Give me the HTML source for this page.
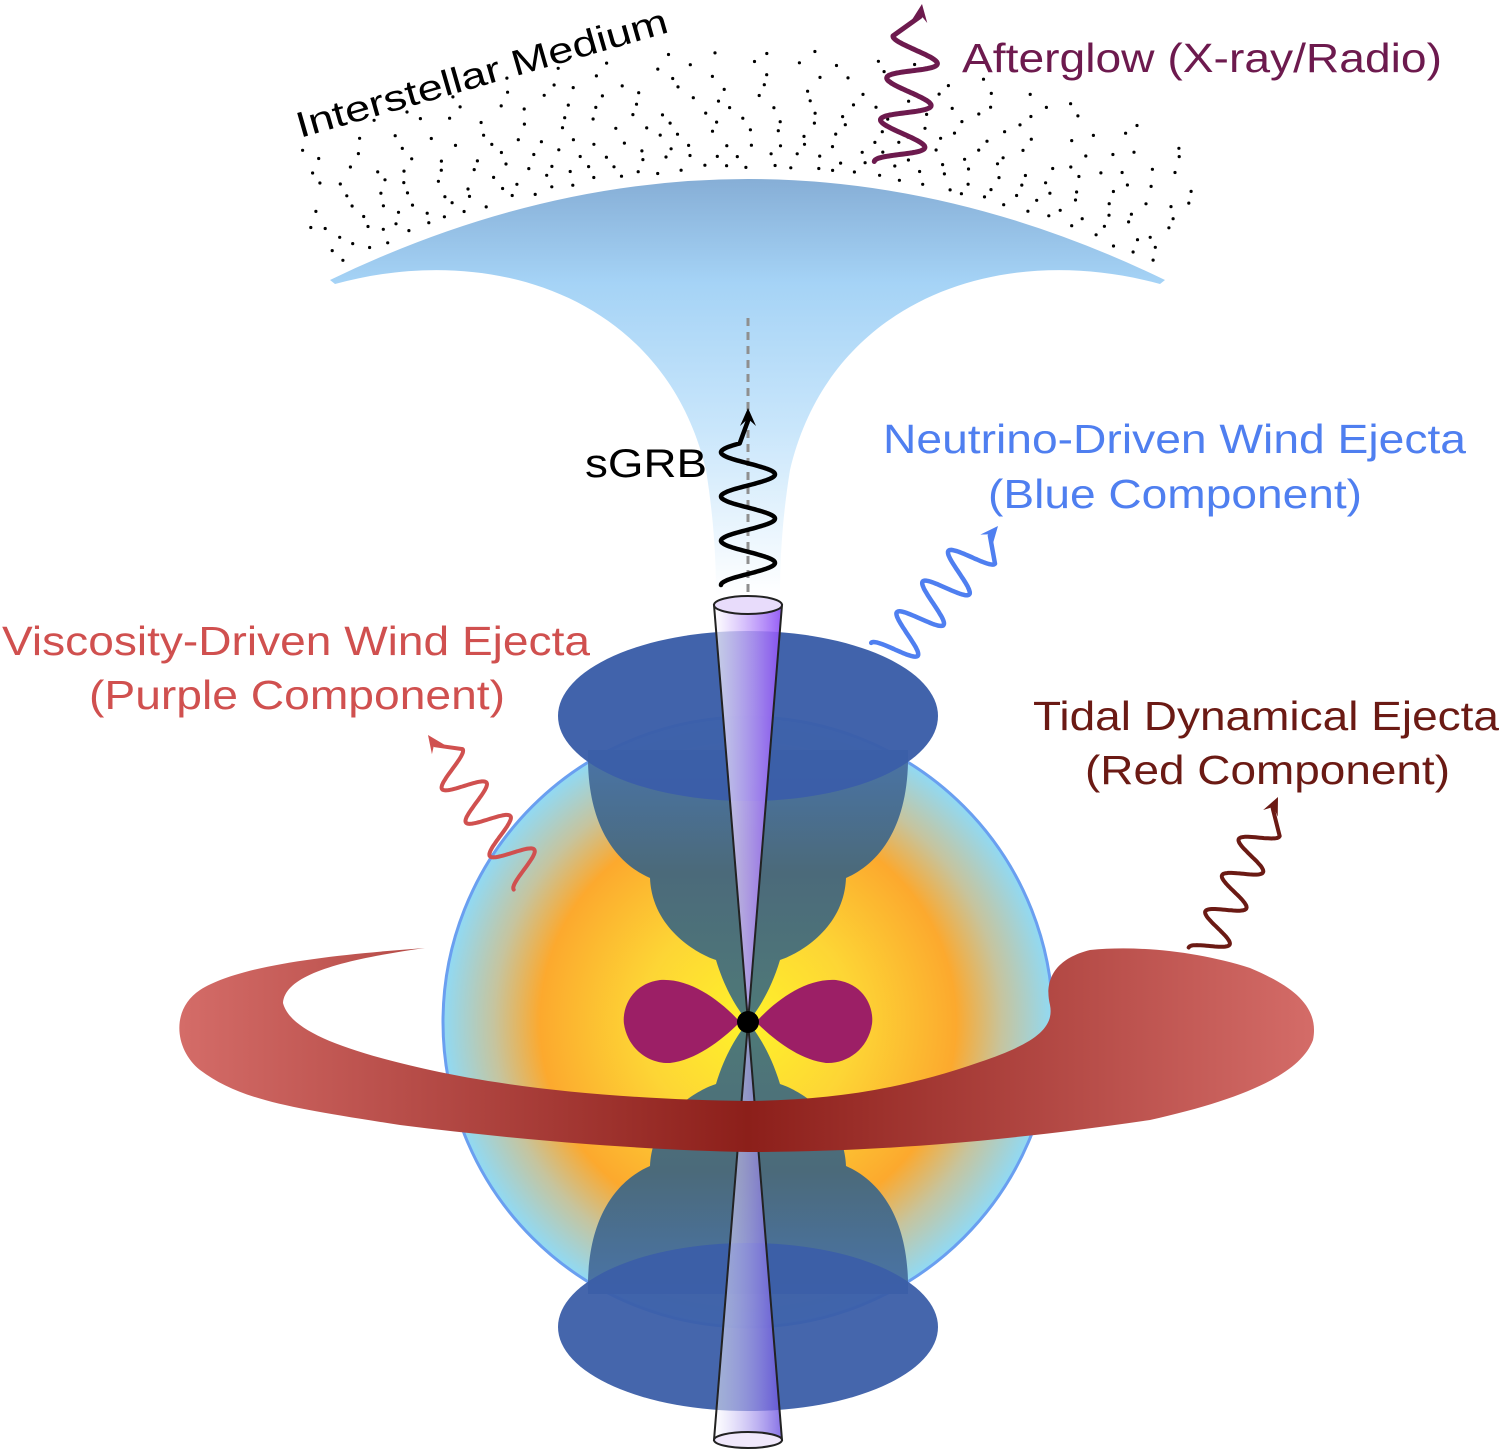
<!DOCTYPE html>
<html><head><meta charset="utf-8"><style>
html,body{margin:0;padding:0;background:#fff;}
svg{display:block;font-family:"Liberation Sans",Arial,sans-serif;}
</style></head><body>
<svg id="s" width="1500" height="1451" viewBox="0 0 1500 1451" xmlns="http://www.w3.org/2000/svg">
<defs>
<linearGradient id="fun" x1="0" y1="0" x2="0" y2="1" gradientUnits="objectBoundingBox">
<stop offset="0" stop-color="#86aed6"/><stop offset="0.25" stop-color="#a5d3f6"/><stop offset="0.6" stop-color="#c9e6fb"/><stop offset="1" stop-color="#ffffff"/>
</linearGradient>
<radialGradient id="sph" cx="748" cy="1022" r="306" gradientUnits="userSpaceOnUse">
<stop offset="0" stop-color="#fff22a"/><stop offset="0.35" stop-color="#fdd535"/><stop offset="0.68" stop-color="#fca92e"/><stop offset="0.83" stop-color="#c6c49e"/><stop offset="1" stop-color="#8fdaf6"/>
</radialGradient>
<linearGradient id="red" x1="180" y1="0" x2="1315" y2="0" gradientUnits="userSpaceOnUse">
<stop offset="0" stop-color="#d46c68"/><stop offset="0.5" stop-color="#8c1f1a"/><stop offset="1" stop-color="#d46c68"/>
</linearGradient>
<linearGradient id="bowl" x1="0" y1="0" x2="0" y2="1">
<stop offset="0" stop-color="#4a74a8"/><stop offset="0.45" stop-color="#4b6a7a"/><stop offset="1" stop-color="#4f7a78"/>
</linearGradient>
<linearGradient id="bowl2" x1="0" y1="1" x2="0" y2="0">
<stop offset="0" stop-color="#4a74a8"/><stop offset="0.45" stop-color="#4b6a7a"/><stop offset="1" stop-color="#4f7a78"/>
</linearGradient>
<linearGradient id="cone" x1="0" y1="0" x2="1" y2="0">
<stop offset="0" stop-color="#ffffff" stop-opacity="0.7"/><stop offset="1" stop-color="#8a4cf5" stop-opacity="0.9"/>
</linearGradient>
<linearGradient id="cone2" x1="0" y1="0" x2="1" y2="0">
<stop offset="0" stop-color="#ffffff" stop-opacity="0.5"/><stop offset="1" stop-color="#6a50e0" stop-opacity="0.8"/>
</linearGradient>
</defs>
<g id="dots" fill="#000"></g>
<path d="M330,280 Q748,78 1165,280 L1160,284 C1000,240 830,300 790,470 C782,520 780,560 780,595 L716,595 C716,560 714,520 706,470 C666,300 496,240 335,284 Z" fill="url(#fun)"/>
<line x1="748" y1="318" x2="748" y2="600" stroke="#8f8f8f" stroke-width="3" stroke-dasharray="8,6"/>
<circle cx="748" cy="1022" r="305" fill="url(#sph)" stroke="#6a9ff0" stroke-width="3"/>
<path d="M588,750 C586,830 620,865 650,878 C652,930 700,955 716,960 C725,990 738,1010 748,1022 C758,1010 771,990 780,960 C796,955 844,930 846,878 C876,865 910,830 908,750 Z" fill="url(#bowl)"/>
<path d="M588,1294 C586,1214 620,1179 650,1166 C652,1114 700,1089 716,1084 C725,1054 738,1034 748,1022 C758,1034 771,1054 780,1084 C796,1089 844,1114 846,1166 C876,1179 910,1214 908,1294 Z" fill="url(#bowl2)"/>
<ellipse cx="748" cy="716" rx="190" ry="85" fill="#3b5ea8" fill-opacity="0.97"/>
<ellipse cx="748" cy="1327" rx="190" ry="84" fill="#3b5ea8" fill-opacity="0.95"/>
<path d="M740,1022 C720,1000 690,978 660,980 C630,984 622,1010 624,1024 C628,1050 650,1064 670,1063 C695,1060 720,1042 740,1022 Z" fill="#9c1f66"/>
<path d="M756,1022 C776,1000 806,978 836,980 C866,984 874,1010 872,1024 C868,1050 846,1064 826,1063 C801,1060 776,1042 756,1022 Z" fill="#9c1f66"/>
<path d="M714,605 L748,1022 L782,605 Z" fill="url(#cone)" stroke="#222" stroke-width="2"/>
<ellipse cx="748" cy="605" rx="34" ry="9" fill="#e8dcfb" stroke="#222" stroke-width="2"/>
<path d="M714,1440 L748,1022 L782,1440 Z" fill="url(#cone2)" stroke="#222" stroke-width="2"/>
<ellipse cx="748" cy="1440" rx="34" ry="8" fill="#f0e8fb" stroke="#222" stroke-width="2"/>
<circle cx="748" cy="1022" r="11" fill="#000"/>
<path d="M425,948 C330,955 240,965 200,990 C170,1010 175,1050 200,1070 C240,1100 290,1108 400,1125 C520,1140 640,1150 748,1152 C870,1152 1000,1142 1150,1120 C1240,1100 1300,1075 1313,1040 C1320,1005 1290,985 1250,968 C1200,952 1140,945 1090,950 C1050,960 1045,985 1050,1005 C1055,1030 1030,1045 980,1062 C900,1090 830,1100 748,1101 C640,1100 520,1090 430,1070 C340,1050 290,1030 283,1003 C285,975 340,960 425,948 Z" fill="url(#red)"/>
<g id="waves"></g>
<text x="300" y="138" font-size="36" transform="rotate(-16 300 138)" fill="#000" textLength="385" lengthAdjust="spacingAndGlyphs">Interstellar  Medium</text>
<text x="962" y="72" font-size="41" fill="#6d1a4e" textLength="480" lengthAdjust="spacingAndGlyphs">Afterglow (X-ray/Radio)</text>
<text x="585" y="477" font-size="40" fill="#000" textLength="122" lengthAdjust="spacingAndGlyphs">sGRB</text>
<text x="883" y="453" font-size="41" fill="#4f7ff0" textLength="583" lengthAdjust="spacingAndGlyphs">Neutrino-Driven Wind Ejecta</text>
<text x="988" y="508" font-size="41" fill="#4f7ff0" textLength="374" lengthAdjust="spacingAndGlyphs">(Blue Component)</text>
<text x="2" y="655" font-size="41" fill="#d0504f" textLength="588" lengthAdjust="spacingAndGlyphs">Viscosity-Driven Wind Ejecta</text>
<text x="89" y="709" font-size="41" fill="#d0504f" textLength="416" lengthAdjust="spacingAndGlyphs">(Purple Component)</text>
<text x="1033" y="730" font-size="41" fill="#6b1a14" textLength="466" lengthAdjust="spacingAndGlyphs">Tidal Dynamical Ejecta</text>
<text x="1085" y="784" font-size="41" fill="#6b1a14" textLength="365" lengthAdjust="spacingAndGlyphs">(Red Component)</text>
</svg>
<script>
var NS="http://www.w3.org/2000/svg";
var dg=document.getElementById("dots");
var cx=748,cy=1085,seed=12345;
function rnd(){seed=(seed*1103515245+12345)%2147483648;return seed/2147483648;}
for(var i=0;i<11;i++){
  var r=918+i*11.5;
  var step=(22+i*3)/r;
  var a0=0.47;
  var off=rnd()*step;
  for(var a=-a0+off;a<=a0;a+=step){
    var aa=a+(rnd()-0.5)*step*0.5, rr=r+(rnd()-0.5)*6;
    var x=cx+rr*Math.sin(aa),y=cy-rr*Math.cos(aa);
    if(x<298||x>1198) continue;
    var c=document.createElementNS(NS,"circle");
    c.setAttribute("cx",x.toFixed(1));c.setAttribute("cy",y.toFixed(1));c.setAttribute("r","1.6");
    dg.appendChild(c);
  }
}
var wg=document.getElementById("waves");
function wave(x0,y0,x1,y1,amp,cyc,frac,col,w){
  var dx=x1-x0,dy=y1-y0,L=Math.hypot(dx,dy),ux=dx/L,uy=dy/L,nx=-uy,ny=ux;
  var wl=L*frac,d="";
  for(var k=0;k<=200;k++){
    var t=k/200*wl,s=amp*Math.sin(t/wl*cyc*2*Math.PI - Math.PI/2);
    var px=x0+ux*t+nx*s,py=y0+uy*t+ny*s;
    d+=(k?"L":"M")+px.toFixed(1)+","+py.toFixed(1);
  }
  var ah=18;
  var bx=x1-ux*ah*0.7,by=y1-uy*ah*0.7;
  d+="L"+bx.toFixed(1)+","+by.toFixed(1);
  var p=document.createElementNS(NS,"path");
  p.setAttribute("d",d);p.setAttribute("fill","none");p.setAttribute("stroke",col);p.setAttribute("stroke-width",w);p.setAttribute("stroke-linejoin","round");p.setAttribute("stroke-linecap","round");
  wg.appendChild(p);
  var h=document.createElementNS(NS,"path");
  var hx1=x1-ux*ah+nx*8,hy1=y1-uy*ah+ny*8,hx2=x1-ux*ah-nx*8,hy2=y1-uy*ah-ny*8,mx=x1-ux*ah*0.6,my=y1-uy*ah*0.6;
  h.setAttribute("d","M"+x1+","+y1+"L"+hx1+","+hy1+"L"+mx+","+my+"L"+hx2+","+hy2+"Z");
  h.setAttribute("fill",col);
  wg.appendChild(h);
}
wave(748,585,748,408,27,3.2,0.8,"#000",4.5);
wave(898,165,922,4,24,3,0.78,"#6d1a4e",5);
wave(888,657,998,526,22,3.5,0.82,"#4f7ff0",4.5);
wave(530,878,428,735,20,3.5,0.82,"#d0504f",4);
wave(1205,955,1278,797,18,3.5,0.8,"#6b1a14",4);
</script>
</body></html>
